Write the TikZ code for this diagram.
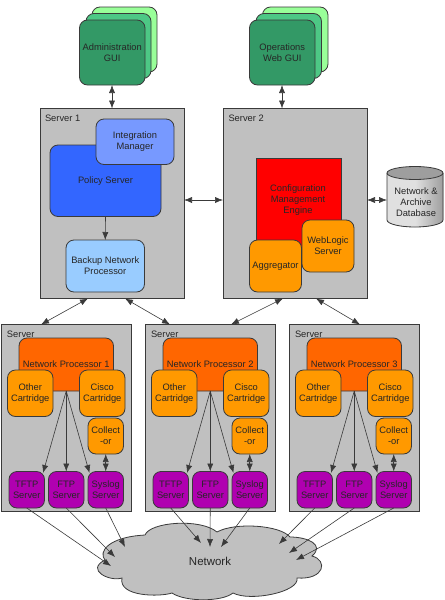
\documentclass[tikz,border=0pt]{standalone}
\usepackage{fontspec}
\setmainfont{Liberation Sans}
\usetikzlibrary{arrows.meta,calc}
\definecolor{gfront}{HTML}{339966}
\definecolor{gmid}{HTML}{4DC885}
\definecolor{gback}{HTML}{99FF99}
\definecolor{srv}{HTML}{C0C0C0}
\definecolor{lin}{HTML}{3A3A3A}
\definecolor{policy}{HTML}{3366FF}
\definecolor{integ}{HTML}{7799FF}
\definecolor{backup}{HTML}{99CCFF}
\definecolor{orng}{HTML}{FF9900}
\definecolor{nproc}{HTML}{FF6600}
\definecolor{purp}{HTML}{B000B0}
\tikzset{
  every node/.style={font=\fontsize{7}{8.3}\selectfont, text=black!85, align=center, inner sep=0pt, outer sep=0pt},
  edgebox/.style={draw=lin, line width=.6pt},
  roundbox/.style={edgebox, rounded corners=6pt},
  server/.style={draw=lin, line width=.7pt, fill=srv},
  conn/.style={draw=lin, line width=.45pt, -{Latex[length=6pt,width=4.6pt]}},
  both/.style={draw=lin, line width=.45pt, {Latex[length=6pt,width=4.6pt]}-{Latex[length=6pt,width=4.6pt]}},
  lab/.style={anchor=west}
}
% style, name, x0, y0, x1, y1, text
\newcommand{\pbox}[7]{\node[#1, minimum width={((#5)-(#3))*0.75pt}, minimum height={((#6)-(#4))*0.75pt}] (#2) at ({((#3)+(#5))/2},{((#4)+(#6))/2}) {#7};}
\begin{document}
\begin{tikzpicture}[x=0.75pt,y=-0.75pt]
\useasboundingbox (0,0) rectangle (445,600);
% GUIs
\pbox{roundbox,fill=gback}{g1c}{92}{7}{157}{72}{}
\pbox{roundbox,fill=gmid}{g1b}{86}{13.5}{151}{78.5}{}
\pbox{roundbox,fill=gfront}{g1}{79.5}{20}{145}{85}{Administration\\GUI}
\pbox{roundbox,fill=gback}{g2c}{262.5}{7}{328}{72}{}
\pbox{roundbox,fill=gmid}{g2b}{256}{13.5}{321.5}{78.5}{}
\pbox{roundbox,fill=gfront}{g2}{249.5}{20}{315}{85}{Operations\\Web GUI}
% Upper servers
\pbox{server}{s1}{40}{108.5}{184}{298.5}{}
\pbox{server}{s2}{223}{108.5}{367}{298.5}{}
\node[lab] (s1l) at (45,118) {Server 1};
\node[lab] (s2l) at (228.5,118) {Server 2};
\pbox{roundbox,fill=policy}{ps}{50}{145}{161}{216.5}{Policy Server}
\pbox{roundbox,fill=integ}{im}{96}{119}{174}{164.5}{Integration\\Manager}
\pbox{roundbox,fill=backup}{bn}{66}{240}{144.5}{292}{Backup Network\\Processor}
\pbox{edgebox,fill=red}{cm}{256}{158}{341}{250}{}
\node (cmt) at (298,200) {Configuration\\Management\\Engine};
\pbox{roundbox,fill=orng}{wl}{302}{220}{354}{272}{WebLogic\\Server}
\pbox{roundbox,fill=orng}{ag}{249.5}{240}{301.5}{292}{Aggregator}
% Database
\fill[left color=white!88!black, right color=black!38, middle color=black!12] (387,173) -- (387,220) arc[x radius=28, y radius=7, start angle=180, end angle=0] -- (443,173) -- cycle;
\draw[lin, line width=.6pt] (387,173) -- (387,220) arc[x radius=28, y radius=7, start angle=180, end angle=0] -- (443,173);
\draw[lin, line width=.6pt, fill=black!38] (415,173) ellipse[x radius=28, y radius=6.5];
\node[minimum width=42pt] (db) at (416,202) {Network \&\\Archive\\Database};
\coordinate (midy) at (0,200);
\draw[both] (s1.east |- midy) -- (s2.west |- midy);
\coordinate (dbw) at (387,200);
\draw[both] (s2.east |- midy) -- (dbw);
\draw[both] (g1.south -| 112,0) -- (s1.north -| 112,0);
\draw[both] (g2.south -| 282,0) -- (s2.north -| 282,0);
\draw[conn] (ps.south) -- (bn.north);
% Cloud
\draw[draw=lin, line width=.6pt, fill=srv] (105,560)
  .. controls (98,552) and (108,537) .. (145,535)
  .. controls (150,522) and (200,518) .. (217,532)
  .. controls (235,522) and (280,525) .. (290,537)
  .. controls (308,537) and (325,545) .. (312,556)
  .. controls (328,560) and (325,580) .. (297,578)
  .. controls (300,592) and (250,602) .. (233,593)
  .. controls (222,602) and (185,602) .. (172,593)
  .. controls (160,597) and (118,597) .. (122,578)
  .. controls (110,582) and (85,570) .. (105,560) -- cycle;
\node[font=\fontsize{8.6}{10}\selectfont] (net) at (210,561.5) {Network};
\foreach \i/\o/\ax/\ay/\bx/\by/\cx/\cy in
  {1/0/111/566/115/557/125/547,
   2/144/201/543/210/547/221/547,
   3/288/279/544/289/553/296/560}{
  \coordinate (n\i a) at (\ax,\ay);
  \coordinate (n\i b) at (\bx,\by);
  \coordinate (n\i c) at (\cx,\cy);
  \pbox{server}{sv\i}{1+\o}{324.5}{131.5+\o}{511}{}
  \node[lab] (sl\i) at (7+\o,334) {Server};
  \pbox{roundbox,fill=nproc}{np\i}{19+\o}{338}{113.5+\o}{391}{Network Processor \i}
  \pbox{roundbox,fill=orng}{oc\i}{7.5+\o}{370}{53+\o}{416.5}{Other\\Cartridge}
  \pbox{roundbox,fill=orng}{cc\i}{79.5+\o}{370}{125+\o}{416.5}{Cisco\\Cartridge}
  \pbox{roundbox,fill=orng}{co\i}{88+\o}{418}{123.5+\o}{454}{Collect\\-or}
  \pbox{roundbox,fill=purp}{tf\i}{9+\o}{471.5}{44.5+\o}{508}{TFTP\\Server}
  \pbox{roundbox,fill=purp}{ft\i}{48.5+\o}{471.5}{84+\o}{508}{FTP\\Server}
  \pbox{roundbox,fill=purp}{sy\i}{88+\o}{471.5}{123.5+\o}{508}{Syslog\\Server}
  \draw[conn] (np\i.south) -- ($(tf\i.north east)+(-1.5,1.5)$);
  \draw[conn] (np\i.south) -- (ft\i.north);
  \draw[conn] (np\i.south) -- ($(sy\i.north west)+(1.5,1.5)$);
  \draw[both] (co\i.south) -- (sy\i.north);
  \draw[conn] (tf\i.south) -- (n\i a);
  \draw[conn] (ft\i.south) -- (n\i b);
  \draw[conn] (sy\i.south) -- (n\i c);
}
% Server links
\coordinate (u1) at (88,298.5);
\coordinate (u2) at (125,298.5);
\coordinate (u3) at (283,298.5);
\coordinate (u4) at (316,298.5);
\coordinate (d1) at (41,324.5);
\coordinate (d2) at (170,324.5);
\coordinate (d3) at (231,324.5);
\coordinate (d4) at (360,324.5);
\draw[both] (u1) -- (d1);
\draw[both] (u2) -- (d2);
\draw[both] (u3) -- (d3);
\draw[both] (u4) -- (d4);
\end{tikzpicture}
\end{document}
